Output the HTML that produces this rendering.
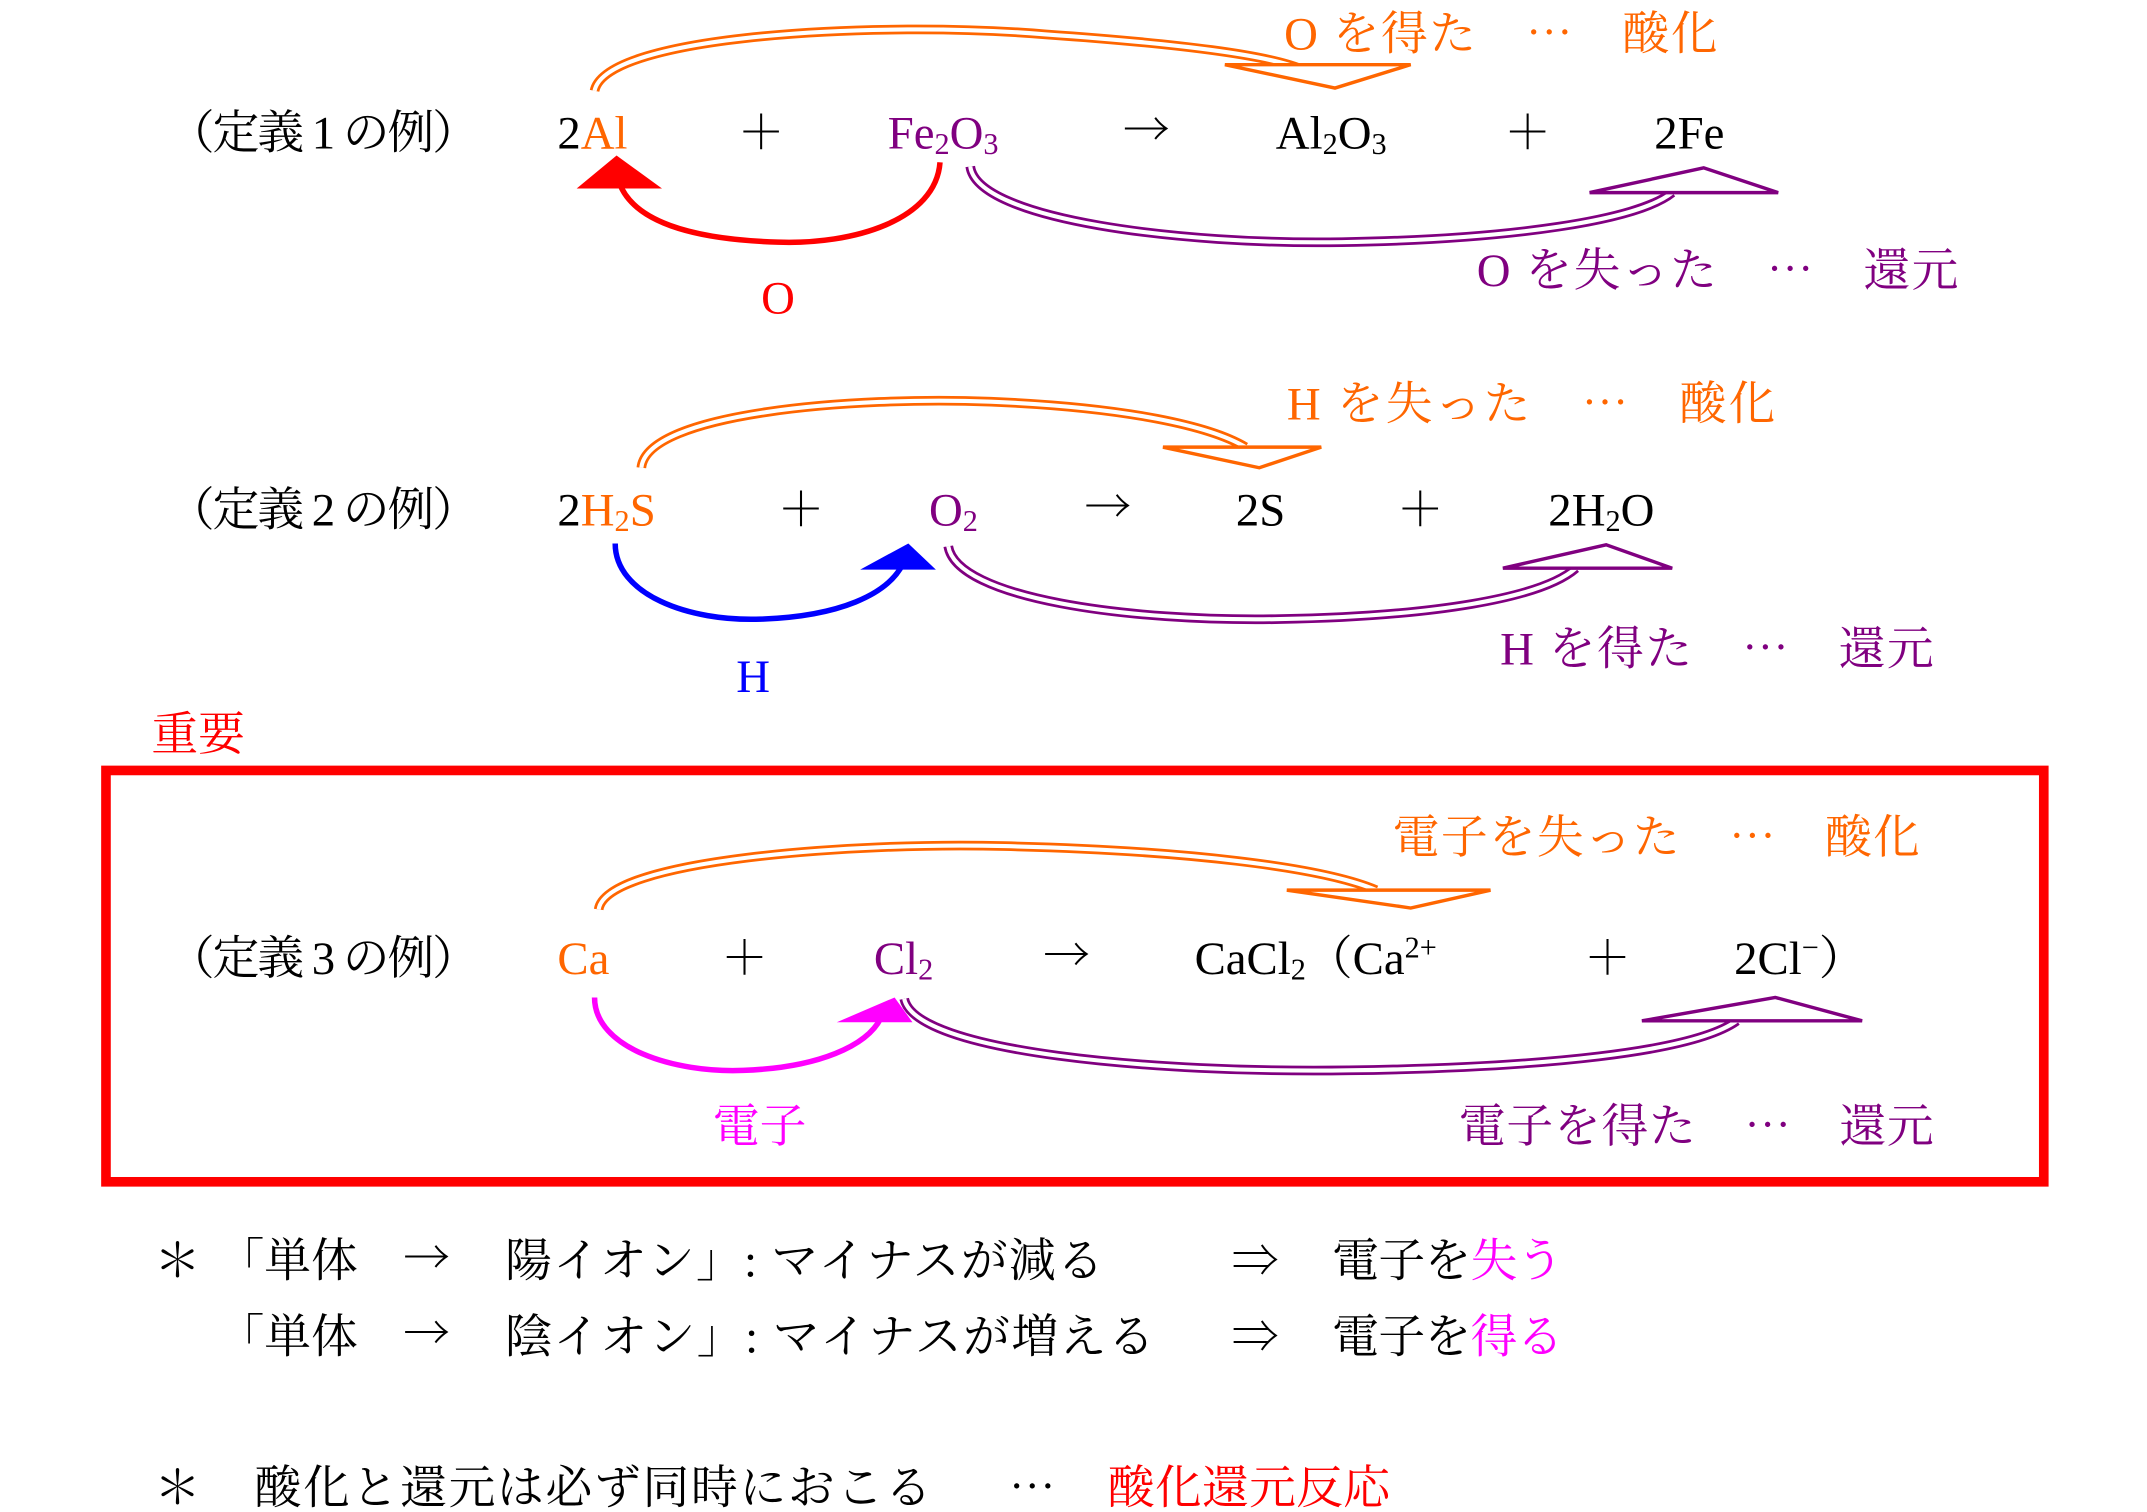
<!DOCTYPE html>
<html><head><meta charset="utf-8"><style>
html,body{margin:0;padding:0;background:#fff;}
svg{display:block;}
text{font-family:"Liberation Serif","Noto Serif CJK JP","Noto Sans CJK JP",serif;font-size:34px;fill:#000;}
.c{font-family:"Noto Serif CJK JP","Noto Sans CJK JP",serif;text-anchor:middle;}
.o{fill:#ff6600}.p{fill:#800080}.r{fill:#ff0000}.b{fill:#0000ff}.m{fill:#ff00ff}
.s{font-size:22px}
</style></head><body>
<svg width="2147" height="1512" viewBox="0 0 1560 1099" preserveAspectRatio="none" xmlns="http://www.w3.org/2000/svg">
<text x="122" y="108" textLength="226">（定義 1 の例）</text>
<text x="405" y="108">2<tspan class="o">Al</tspan></text>
<text x="553" y="108" class="c">＋</text>
<text x="645" y="108" class="p">Fe<tspan class="s" dy="4">2</tspan><tspan dy="-4">O</tspan><tspan class="s" dy="4">3</tspan></text>
<text x="833" y="106" class="c">→</text>
<text x="927" y="108">Al<tspan class="s" dy="4">2</tspan><tspan dy="-4">O</tspan><tspan class="s" dy="4">3</tspan></text>
<text x="1110" y="108" class="c">＋</text>
<text x="1202" y="108">2Fe</text>
<text x="933" y="36" class="o" textLength="315">O を得た　⋯　酸化</text>
<text x="1073" y="208" class="p" textLength="350">O を失った　⋯　還元</text>
<text x="553" y="228" class="r">O</text>

<path d="M432,66 C440,25 640,15 760,25 C860,32 920,40 945,50" fill="none" stroke="#ff6600" stroke-width="7"/>
<path d="M432,66 C440,25 640,15 760,25 C860,32 920,40 945,50" fill="none" stroke="#fff" stroke-width="3"/>
<polygon points="890,47 1025,47 970,64" fill="#fff" stroke="#ff6600" stroke-width="2.5"/>
<path d="M683,118 C680,160 620,178 565,176 C500,174 460,160 450,133" fill="none" stroke="#ff0000" stroke-width="4"/>
<polygon points="448,113 419,137 481,137" fill="#ff0000"/>
<path d="M705,121 C710,160 860,178 975,176 C1100,174 1190,160 1215,140" fill="none" stroke="#800080" stroke-width="7"/>
<path d="M705,121 C710,160 860,178 975,176 C1100,174 1190,160 1215,140" fill="none" stroke="#fff" stroke-width="3"/>
<polygon points="1238,122 1155,140 1292,140" fill="#fff" stroke="#800080" stroke-width="2.5"/>

<text x="122" y="382" textLength="226">（定義 2 の例）</text>
<text x="405" y="382">2<tspan class="o">H</tspan><tspan class="o s" dy="4">2</tspan><tspan class="o" dy="-4">S</tspan></text>
<text x="582" y="382" class="c">＋</text>
<text x="675" y="382" class="p">O<tspan class="s" dy="4">2</tspan></text>
<text x="805" y="380" class="c">→</text>
<text x="898" y="382">2S</text>
<text x="1032" y="382" class="c">＋</text>
<text x="1125" y="382">2H<tspan class="s" dy="4">2</tspan><tspan dy="-4">O</tspan></text>
<text x="935" y="305" class="o" textLength="355">H を失った　⋯　酸化</text>
<text x="1090" y="483" class="p" textLength="315">H を得た　⋯　還元</text>
<text x="535" y="503" class="b">H</text>

<path d="M466,340 C470,300 620,288 720,292 C820,296 880,310 905,325" fill="none" stroke="#ff6600" stroke-width="7"/>
<path d="M466,340 C470,300 620,288 720,292 C820,296 880,310 905,325" fill="none" stroke="#fff" stroke-width="3"/>
<polygon points="845,325 960,325 915,340" fill="#fff" stroke="#ff6600" stroke-width="2.5"/>
<path d="M447,395 C447,432 500,452 553,450 C610,448 645,432 656,410" fill="none" stroke="#0000ff" stroke-width="4"/>
<polygon points="660,395 625,414 680,414" fill="#0000ff"/>
<path d="M689,397 C695,435 820,452 930,450 C1040,448 1120,435 1145,413" fill="none" stroke="#800080" stroke-width="7"/>
<path d="M689,397 C695,435 820,452 930,450 C1040,448 1120,435 1145,413" fill="none" stroke="#fff" stroke-width="3"/>
<polygon points="1167,396 1092,413 1215,413" fill="#fff" stroke="#800080" stroke-width="2.5"/>

<text x="110" y="545" class="r">重要</text>
<rect x="77" y="560" width="1408" height="299" fill="none" stroke="#ff0000" stroke-width="7"/>

<text x="122" y="708" textLength="226">（定義 3 の例）</text>
<text x="405" y="708" class="o">Ca</text>
<text x="541" y="708" class="c">＋</text>
<text x="635" y="708" class="p">Cl<tspan class="s" dy="4">2</tspan></text>
<text x="775" y="706" class="c">→</text>
<text x="868" y="708">CaCl<tspan class="s" dy="4">2</tspan><tspan dy="-4">（Ca</tspan><tspan class="s" dy="-12">2+</tspan></text>
<text x="1168" y="708" class="c">＋</text>
<text x="1260" y="708">2Cl<tspan class="s" dy="-12">−</tspan><tspan dy="12">）</tspan></text>
<text x="1012" y="620" class="o" textLength="383">電子を失った　⋯　酸化</text>
<text x="1060" y="830" class="p" textLength="345">電子を得た　⋯　還元</text>
<text x="518" y="830" class="m">電子</text>

<path d="M435,661 C440,625 620,612 730,615 C860,618 960,630 1000,647" fill="none" stroke="#ff6600" stroke-width="7"/>
<path d="M435,661 C440,625 620,612 730,615 C860,618 960,630 1000,647" fill="none" stroke="#fff" stroke-width="3"/>
<polygon points="935,647 1083,647 1025,660" fill="#fff" stroke="#ff6600" stroke-width="2.5"/>
<path d="M432,725 C432,762 490,780 540,778 C595,776 630,760 640,740" fill="none" stroke="#ff00ff" stroke-width="4"/>
<polygon points="650,725 608,743 663,743" fill="#ff00ff"/>
<path d="M657,726 C665,765 840,780 980,778 C1120,776 1230,765 1262,742" fill="none" stroke="#800080" stroke-width="7"/>
<path d="M657,726 C665,765 840,780 980,778 C1120,776 1230,765 1262,742" fill="none" stroke="#fff" stroke-width="3"/>
<polygon points="1290,725 1193,742 1353,742" fill="#fff" stroke="#800080" stroke-width="2.5"/>

<text x="112" y="928">＊</text>
<text x="158" y="928">「単体</text>
<text x="310" y="926" class="c">→</text>
<text x="367" y="928" textLength="435">陽イオン」: マイナスが減る</text>
<text x="912" y="928" class="c">⇒</text>
<text x="968" y="928" textLength="168">電子を<tspan class="m">失う</tspan></text>
<text x="158" y="983">「単体</text>
<text x="310" y="981" class="c">→</text>
<text x="367" y="983" textLength="472">陰イオン」: マイナスが増える</text>
<text x="912" y="983" class="c">⇒</text>
<text x="968" y="983" textLength="168">電子を<tspan class="m">得る</tspan></text>
<text x="112" y="1093">＊</text>
<text x="185" y="1093" textLength="492">酸化と還元は必ず同時におこる</text>
<text x="750" y="1093" class="c">⋯</text>
<text x="805" y="1093" class="r" textLength="205">酸化還元反応</text>
</svg>
</body></html>
